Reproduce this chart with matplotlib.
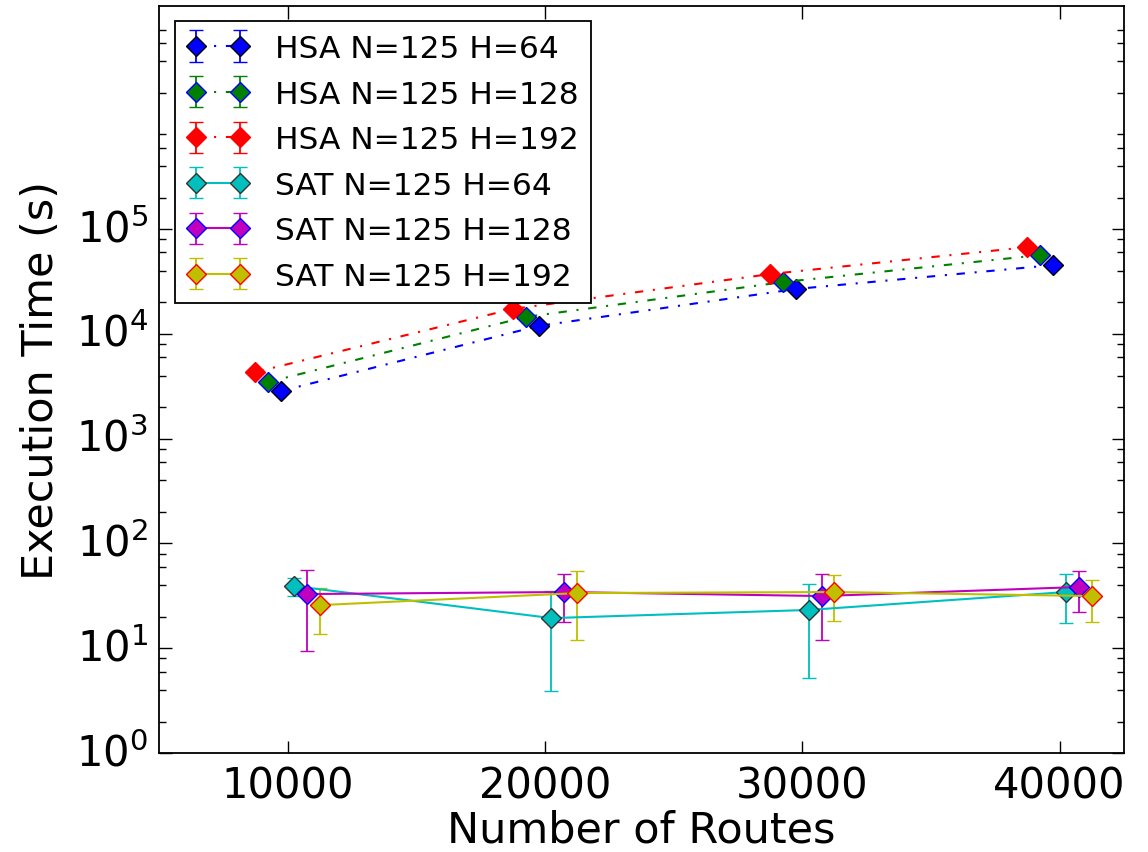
import matplotlib
matplotlib.use('Agg')
import matplotlib.pyplot as plt
import numpy as np

plt.style.use('classic')
plt.rcParams['mathtext.fontset'] = 'dejavusans'
plt.rcParams['font.family'] = ['DejaVu Sans']
plt.rcParams['lines.dashdot_pattern'] = [6, 7, 1.5, 7]

routes = [10000, 20000, 30000, 40000]

# HSA runs (s)
hsa_64 = [2850, 11900, 26800, 45300]
hsa_128 = [3470, 14500, 31200, 56500]
hsa_192 = [4320, 17300, 37200, 67300]
hsa_64_err = [40, 150, 300, 500]
hsa_128_err = [50, 180, 350, 600]
hsa_192_err = [60, 200, 400, 700]

# SAT runs (s)
sat_64 = [39.2, 19.4, 23.2, 34.4]
sat_128 = [32.9, 34.4, 31.5, 38.4]
sat_192 = [25.8, 33.6, 34.4, 31.5]
sat_64_err = [8.0, 15.5, 18.0, 17.0]
sat_128_err = [23.5, 16.6, 19.5, 16.0]
sat_192_err = [12.0, 21.5, 16.0, 13.5]

labels = ['HSA N=125 H=64', 'HSA N=125 H=128', 'HSA N=125 H=192',
          'SAT N=125 H=64', 'SAT N=125 H=128', 'SAT N=125 H=192']

fig = plt.figure(figsize=(11.48, 8.53), dpi=100)
ax = fig.add_axes([0.1385, 0.116, 0.8405, 0.876])

# values, errors, x shift so the points don't sit on top of each other,
# colour, marker edge, line style
series = [
    (hsa_64, hsa_64_err, -250, 'b', 'k', '-.'),
    (hsa_128, hsa_128_err, -750, 'g', 'b', '-.'),
    (hsa_192, hsa_192_err, -1250, 'r', 'r', '-.'),
    (sat_64, sat_64_err, 250, 'c', '#333333', '-'),
    (sat_128, sat_128_err, 750, 'm', 'b', '-'),
    (sat_192, sat_192_err, 1250, 'y', 'r', '-'),
]

for (vals, err, off, col, edge, ls), lab in zip(series, labels):
    x = np.array(routes) + off
    ax.errorbar(x, vals, yerr=err, color=col, ecolor=col, ls=ls, lw=1.5,
                marker='D', ms=10, mfc=col, mec=edge, mew=1.0,
                capsize=5, elinewidth=1.3, label=lab)

ax.set_yscale('log')
ax.set_xlim(5000, 42500)
ax.set_ylim(1, 1.35e7)
ax.set_xticks([10000, 20000, 30000, 40000])
ax.set_yticks([1, 10, 100, 1000, 10000, 100000])
minor = [m * 10.0 ** k for k in range(0, 7) for m in (2, 4, 6, 8)]
ax.set_yticks(minor, minor=True)
ax.yaxis.set_minor_formatter(matplotlib.ticker.NullFormatter())

ax.tick_params(which='major', length=9, width=1, labelsize=30, direction='in',
               top=True, right=True, pad=8)
ax.tick_params(which='minor', length=5, width=1, direction='in', top=True, right=True)
for s in ax.spines.values():
    s.set_linewidth(1.3)

ax.set_xlabel('Number of Routes', fontsize=31, labelpad=2)
ax.set_ylabel('Execution Time (s)', fontsize=31, labelpad=10)

leg = ax.legend(loc='upper left', numpoints=2, fontsize=22.5, frameon=True,
                fancybox=False, borderaxespad=0.5, labelspacing=0.53)
leg.get_frame().set_linewidth(1.3)
leg.get_frame().set_edgecolor('k')

fig.savefig('out.png', dpi=100)
